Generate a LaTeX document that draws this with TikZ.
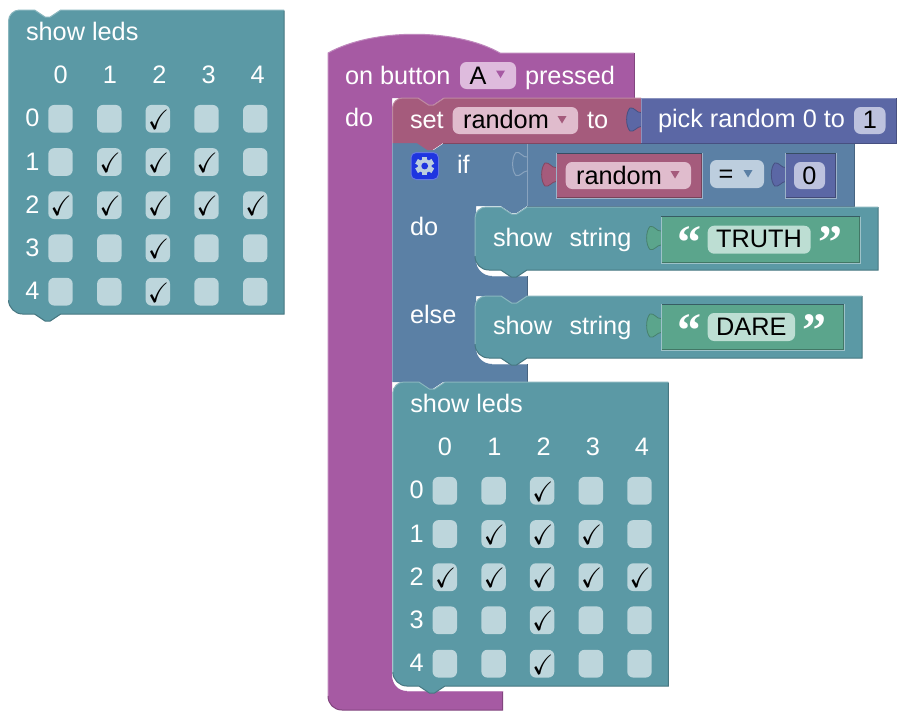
\documentclass[tikz,border=0pt]{standalone}
\usepackage{fontspec}
\usepackage{amssymb}
\setmainfont{Liberation Sans}
\newfontfamily\quotefont{Liberation Serif}
\definecolor{hatc}{HTML}{A65AA3}
\definecolor{varc}{HTML}{A55B7C}
\definecolor{mathc}{HTML}{5B67A5}
\definecolor{logc}{HTML}{5B80A5}
\definecolor{txtc}{HTML}{5BA58C}
\definecolor{ledc}{HTML}{5B99A5}
\definecolor{cellc}{HTML}{BDD6DC}
\definecolor{hatf}{HTML}{DEBBDD}
\definecolor{varf}{HTML}{E0BCCD}
\definecolor{logf}{HTML}{BDCEDE}
\definecolor{mathf}{HTML}{BDC2DE}
\definecolor{txtf}{HTML}{BDDED3}
\definecolor{gearblue}{HTML}{1F35E0}
\tikzset{
  wt/.style={inner sep=0pt,outer sep=0pt,text=white,font=\fontsize{25.3}{30}\selectfont},
  bk/.style={inner sep=0pt,outer sep=0pt,text=black,font=\fontsize{25.3}{30}\selectfont},
  fieldbox/.style={rounded corners=6.5pt},
  hi/.style={#1!72!white,line width=1pt},
  lo/.style={#1!78!black,line width=1pt},
  quotemark/.style={wt,anchor=base,font=\quotefont\bfseries\fontsize{48}{50}\selectfont},
}
% labels: x, baseline y, text
\newcommand\wl[3]{\node[wt,anchor=base west] at (#1,#2) {#3};}
\newcommand\wc[3]{\node[wt,anchor=base] at (#1,#2) {#3};}
\newcommand\bl[3]{\node[bk,anchor=base] at (#1,#2) {#3};}
% field box
\newcommand\fld[5]{\fill[#5,fieldbox] (#1,#2) rectangle (#3,#4);}
% dropdown triangle
\newcommand\tri[3]{\fill[#3] (#1-4.5,#2-3.5) -- (#1+4.5,#2-3.5) -- (#1,#2+4) -- cycle;}
% puzzle tab: x of block edge, top y of bulge
\def\tabpath#1#2{(#1,#2+4) .. controls (#1-4,#2+5) and (#1-7,#2-2) .. (#1-11,#2-0.5) .. controls (#1-15.5,#2+4) and (#1-15.5,#2+18) .. (#1-11,#2+22.5) .. controls (#1-7,#2+24) and (#1-4,#2+18) .. (#1,#2+18)}
\newcommand\tabfill[3]{\fill[#3] \tabpath{#1}{#2} -- cycle;
  \draw[#3!78!black,line width=.8pt] \tabpath{#1}{#2};}
% outer-style edges: x0 y0 x1 y1 colour
\newcommand\edges[5]{%
  \draw[lo=#5] (#3,#2) -- (#3,#4) -- (#1,#4);
  \draw[hi=#5] (#1,#4) -- (#1,#2) -- (#3,#2);}
% inset edges of a block plugged in a socket: x0 y0 x1 y1 colour parent
\newcommand\inset[6]{%
  \draw[#5!72!black,line width=1pt] (#3-1,#2) -- (#3-1,#4-1) -- (#1,#4-1);
  \draw[#6!60!black,line width=.8pt] (#1,#2) -- (#3,#2);
  \draw[#6!60!white,line width=1pt] (#3,#2) -- (#3,#4) -- (#1,#4) -- (#1,#2);}
% show leds block
\newcommand\ledblock{%
  \fill[ledc] (8.5,21) .. controls (8.5,15) and (13.5,10) .. (19.5,10) -- (34.5,10) -- ++(10.5,7) -- ++(5.25,0) -- ++(10.5,-7) -- (284,10) -- (284,314) -- (60.75,314) -- ++(-10.5,7) -- ++(-5.25,0) -- ++(-10.5,-7) -- (22.5,314) .. controls (15,314) and (8.5,307.5) .. (8.5,300) -- cycle;
  \draw[lo=ledc] (284,10.5) -- (284,314) -- (60.75,314) -- ++(-10.5,7) -- ++(-5.25,0) -- ++(-10.5,-7) -- (22.5,314) .. controls (15,314) and (8.5,307.5) .. (8.5,300);
  \draw[hi=ledc] (8.5,300) -- (8.5,21) .. controls (8.5,15) and (13.5,10) .. (19.5,10) -- (34.5,10) -- ++(10.5,7) -- ++(5.25,0) -- ++(10.5,-7) -- (284,10);
  \wl{26}{40}{show leds}
  \foreach \c/\x in {0/60.7,1/110,2/159.3,3/208.7,4/257.7} {\wc{\x}{83.5}{\c}}
  \foreach \r/\y in {0/126,1/170,2/213,3/256,4/299} {\wc{32.3}{\y}{\r}}
  \foreach \x in {60.5,109.3,157.8,206.5,255.2} {
    \foreach \y in {118.8,162,205.2,248.3,291.7} {
      \fill[cellc,rounded corners=6pt] (\x-12.2,\y-13.9) rectangle (\x+12.2,\y+13.9);
    }
  }
  \foreach \x/\y in {157.8/118.8, 109.3/162,157.8/162,206.5/162,
    60.5/205.2,109.3/205.2,157.8/205.2,206.5/205.2,255.2/205.2,
    157.8/248.3,157.8/291.7} {
    \node[inner sep=0pt,text=black,font=\fontsize{28}{30}\selectfont] at (\x+0.7,\y+1) {\scalebox{.9}[1]{$\checkmark$}};
  }
}
\begin{document}
\begin{tikzpicture}[x=1pt,y=-1pt]
\useasboundingbox (0,0) rectangle (900,720);
\fill[white] (0,0) rectangle (900,720);

% free-standing show leds
\ledblock

% hat block
\fill[hatc] (328,53) .. controls (373,28) and (456,28) .. (500,53) -- (634,53) -- (634,98) -- (443.5,98) -- ++(-10.5,7) -- ++(-5.25,0) -- ++(-10.5,-7) -- (392,98) -- (392,675) .. controls (392,684) and (398,691) .. (407,691) -- (502.5,691) -- (502.5,710) -- (342,710) .. controls (334,710) and (328,704) .. (328,696) -- cycle;
\draw[hi=hatc] (328,696) -- (328,53) .. controls (373,28) and (456,28) .. (500,53) -- (634,53);
\draw[lo=hatc] (634,53) -- (634,98);
\draw[lo=hatc] (502.5,691) -- (502.5,710) -- (342,710) .. controls (334,710) and (328,704) .. (328,696);
\draw[hi=hatc] (407,691) -- (502.5,691);
\wl{345}{84}{on button}
\fld{460}{62}{516}{89}{hatf}
\bl{478}{84.5}{A}
\tri{500.5}{74}{hatc}
\wl{525}{84}{pressed}
\wl{345}{126}{do}

% logic block (if / do / else), with compare part
\fill[logc] (392.5,143) -- (418,143) -- ++(10.5,7) -- ++(5.25,0) -- ++(10.5,-7) -- (854,143) -- (854,206) -- (527,206) -- ++(-10.5,7) -- ++(-5.25,0) -- ++(-10.5,-7) -- (476,206) -- (476,260) .. controls (476,269) and (483,276) .. (492,276) -- (527,276) -- (527,296) -- ++(-10.5,7) -- ++(-5.25,0) -- ++(-10.5,-7) -- (476,296) -- (476,348) .. controls (476,357) and (483,364) .. (492,364) -- (527,364) -- (527,382) -- (443,382) -- ++(-10.5,7) -- ++(-5.25,0) -- ++(-10.5,-7) -- (392.5,382) -- cycle;
\draw[lo=logc] (854,143) -- (854,206) -- (527,206);
\draw[lo=logc] (527,276) -- (527,296);
\draw[lo=logc] (527,364) -- (527,382);
\draw[hi=logc] (392.5,143) -- (392.5,382);
\draw[hi=logc] (443,143) -- (854,143);
\draw[hi=logc] (527,143) -- (527,206);
\draw[hi=logc] \tabpath{527}{153};
\draw[hi=logc] (492,276) -- (527,276);
\draw[hi=logc] (492,364) -- (527,364);

% gear icon
\fill[gearblue,draw=gearblue!55!logf,line width=1pt,rounded corners=5pt] (411,152.5) rectangle (438.5,179.5);
\foreach \a in {0,60,...,300} {
  \fill[logf,rotate around={\a:(424.7,166)}] (422,156.6) rectangle (427.4,162);
}
\fill[logf] (424.7,166) circle[radius=7pt];
\fill[gearblue] (424.7,166) circle[radius=3.4pt];
\wl{457}{173.5}{if}
\wl{410}{235.7}{do}
\wl{410}{323.5}{else}

% set block
\fill[varc] (392.5,108) .. controls (392.5,102.5) and (397,98) .. (402.5,98) -- (418,98) -- ++(10.5,7) -- ++(5.25,0) -- ++(10.5,-7) -- (641,98) -- (641,143) -- (443,143) -- ++(-10.5,7) -- ++(-5.25,0) -- ++(-10.5,-7) -- (392.5,143) -- cycle;
\draw[hi=varc] (392.5,143) -- (392.5,108) .. controls (392.5,102.5) and (397,98) .. (402.5,98) -- (418,98) -- ++(10.5,7) -- ++(5.25,0) -- ++(10.5,-7) -- (641,98);
\draw[lo=varc] (641,143) -- (443,143);
\wl{410}{128.3}{set}
\fld{452.7}{107}{578}{134}{varf}
\bl{506}{128.3}{random}
\tri{562}{119.5}{varc}
\wl{587}{128.3}{to}

% pick random block
\fill[mathc] (641,98) -- (896,98) -- (896,143) -- (641,143) -- cycle;
\tabfill{641}{108.5}{mathc}
\edges{641}{98}{896}{143}{mathc}
\wl{658}{127.8}{pick random 0 to}
\fld{854}{107}{885.5}{134}{mathf}
\bl{870}{128}{1}

% compare: random = 0
\fill[varc] (556,153) rectangle (702,198);
\tabfill{556}{163.5}{varc}
\inset{556}{153}{702}{198}{varc}{logc}
\fld{565.7}{162}{691}{189}{varf}
\bl{619}{184}{random}
\tri{675}{174.5}{varc}
\fld{710}{160}{764}{188}{logf}
\bl{726}{182.5}{=}
\tri{748}{173.5}{logc}
\fill[mathc] (785.7,153) rectangle (836,198);
\tabfill{785.7}{163.5}{mathc}
\inset{785.7}{153}{836}{198}{mathc}{logc}
\fld{794}{162}{825}{189}{mathf}
\bl{809.5}{184}{0}

% show string TRUTH
\fill[ledc] (475,218) .. controls (475,212) and (480,207) .. (486,207) -- (501,207) -- ++(10.5,7) -- ++(5.25,0) -- ++(10.5,-7) -- (878,207) -- (878,270) -- (527,270) -- ++(-10.5,7) -- ++(-5.25,0) -- ++(-10.5,-7) -- (489,270) .. controls (481,270) and (475,264) .. (475,256) -- cycle;
\draw[lo=ledc] (878,207) -- (878,270) -- (527,270) -- ++(-10.5,7) -- ++(-5.25,0) -- ++(-10.5,-7) -- (489,270) .. controls (481,270) and (475,264) .. (475,256);
\draw[hi=ledc] (475,256) -- (475,218) .. controls (475,212) and (480,207) .. (486,207) -- (501,207) -- ++(10.5,7) -- ++(5.25,0) -- ++(10.5,-7) -- (878,207);
\wl{493}{246}{show}
\wl{569.5}{246}{string}
\fill[txtc] (661,216.7) rectangle (860,263);
\tabfill{661}{227}{txtc}
\inset{661}{216.7}{860}{263}{txtc}{ledc}
\node[quotemark] at (689,258.5) {“};
\fld{707.7}{225.7}{810.7}{253.7}{txtf}
\bl{759}{247.5}{TRUTH}
\node[quotemark] at (830,258.5) {”};

% show string DARE
\fill[ledc] (475,307) .. controls (475,301) and (480,296) .. (486,296) -- (501,296) -- ++(10.5,7) -- ++(5.25,0) -- ++(10.5,-7) -- (862,296) -- (862,358) -- (527,358) -- ++(-10.5,7) -- ++(-5.25,0) -- ++(-10.5,-7) -- (489,358) .. controls (481,358) and (475,352) .. (475,344) -- cycle;
\draw[lo=ledc] (862,296) -- (862,358) -- (527,358) -- ++(-10.5,7) -- ++(-5.25,0) -- ++(-10.5,-7) -- (489,358) .. controls (481,358) and (475,352) .. (475,344);
\draw[hi=ledc] (475,344) -- (475,307) .. controls (475,301) and (480,296) .. (486,296) -- (501,296) -- ++(10.5,7) -- ++(5.25,0) -- ++(10.5,-7) -- (862,296);
\wl{493}{334}{show}
\wl{569.5}{334}{string}
\fill[txtc] (661,304) rectangle (844,350);
\tabfill{661}{314.5}{txtc}
\inset{661}{304}{844}{350}{txtc}{ledc}
\node[quotemark] at (689,346) {“};
\fld{707.7}{313}{795}{341}{txtf}
\bl{751.3}{335}{DARE}
\node[quotemark] at (814,346) {”};

% show leds inside the hat
\begin{scope}[shift={(384.3,372)}]
\ledblock
\end{scope}
\end{tikzpicture}
\end{document}
